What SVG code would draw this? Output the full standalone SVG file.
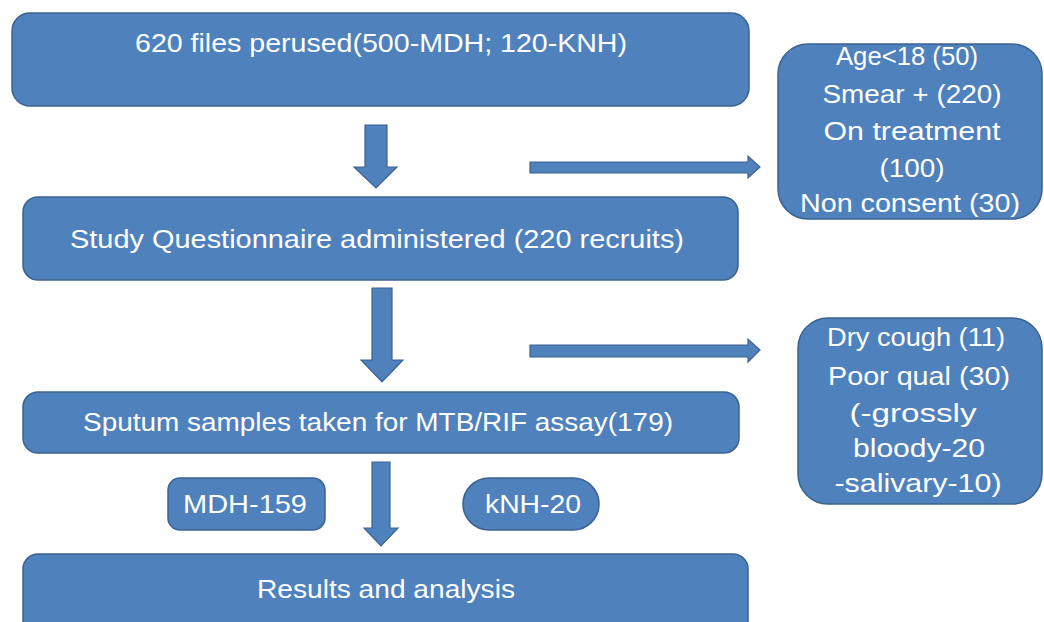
<svg xmlns="http://www.w3.org/2000/svg" width="1044" height="622" viewBox="0 0 1044 622">
  <style>
    .box { fill: #4f81bd; stroke: #3c6390; stroke-width: 1.5; }
    .arrow { fill: #4f81bd; stroke: #3c6390; stroke-width: 1.2; }
    text { font-family: "Liberation Sans", Arial, sans-serif; font-size: 25px; fill: #ffffff; text-anchor: middle; }
  </style>
  <rect width="1044" height="622" fill="#ffffff"/>

  <!-- connectors: block arrows -->
  <g id="connectors">
    <polygon class="arrow" points="365,125 387,125 387,167 397,167 376,188 354,167 365,167"/>
    <polygon class="arrow" points="372,288 392,288 392,360 403,360 382,382 361,360 372,360"/>
    <polygon class="arrow" points="372,462 390,462 390,528 398,528 381,546 364,528 372,528"/>
    <polygon class="arrow" points="530,162 748,162 748,156 760,167 748,178 748,173 530,173"/>
    <polygon class="arrow" points="530,345 748,345 748,339 760,350 748,362 748,357 530,357"/>
  </g>

  <g id="files">
    <rect class="box" x="12" y="13" width="737" height="93" rx="18"/>
    <text x="381" y="52" textLength="492" lengthAdjust="spacingAndGlyphs">620 files perused(500-MDH; 120-KNH)</text>
  </g>

  <g id="questionnaire">
    <rect class="box" x="23" y="197" width="715" height="83" rx="15"/>
    <text x="377" y="248" textLength="614" lengthAdjust="spacingAndGlyphs">Study Questionnaire administered (220 recruits)</text>
  </g>

  <g id="sputum">
    <rect class="box" x="23" y="392" width="716" height="61" rx="15"/>
    <text x="378" y="431" textLength="590" lengthAdjust="spacingAndGlyphs">Sputum samples taken for MTB/RIF assay(179)</text>
  </g>

  <g id="results">
    <rect class="box" x="23" y="554" width="725" height="90" rx="15"/>
    <text x="386" y="598" textLength="258" lengthAdjust="spacingAndGlyphs">Results and analysis</text>
  </g>

  <g id="mdh">
    <rect class="box" x="168" y="478" width="157" height="52" rx="12"/>
    <text x="245" y="513" textLength="124" lengthAdjust="spacingAndGlyphs">MDH-159</text>
  </g>

  <g id="knh">
    <rect class="box" x="463" y="478" width="136" height="52" rx="26"/>
    <text x="533" y="513" textLength="96" lengthAdjust="spacingAndGlyphs">kNH-20</text>
  </g>

  <g id="exclusions-1">
    <rect class="box" x="778" y="44" width="264" height="175" rx="30"/>
    <text x="907" y="65" textLength="142" lengthAdjust="spacingAndGlyphs">Age&lt;18 (50)</text>
    <text x="912" y="103" textLength="179" lengthAdjust="spacingAndGlyphs">Smear + (220)</text>
    <text x="912" y="140" textLength="177" lengthAdjust="spacingAndGlyphs">On treatment</text>
    <text x="912" y="177" textLength="65" lengthAdjust="spacingAndGlyphs">(100)</text>
    <text x="910" y="212" textLength="220" lengthAdjust="spacingAndGlyphs">Non consent (30)</text>
  </g>

  <g id="exclusions-2">
    <rect class="box" x="798" y="318" width="244" height="186" rx="30"/>
    <text x="916" y="346" textLength="178" lengthAdjust="spacingAndGlyphs">Dry cough (11)</text>
    <text x="919" y="385" textLength="182" lengthAdjust="spacingAndGlyphs">Poor qual (30)</text>
    <text x="913" y="422" textLength="127" lengthAdjust="spacingAndGlyphs">(-grossly</text>
    <text x="919" y="457" textLength="132" lengthAdjust="spacingAndGlyphs">bloody-20</text>
    <text x="918" y="492" textLength="167" lengthAdjust="spacingAndGlyphs">-salivary-10)</text>
  </g>
</svg>
